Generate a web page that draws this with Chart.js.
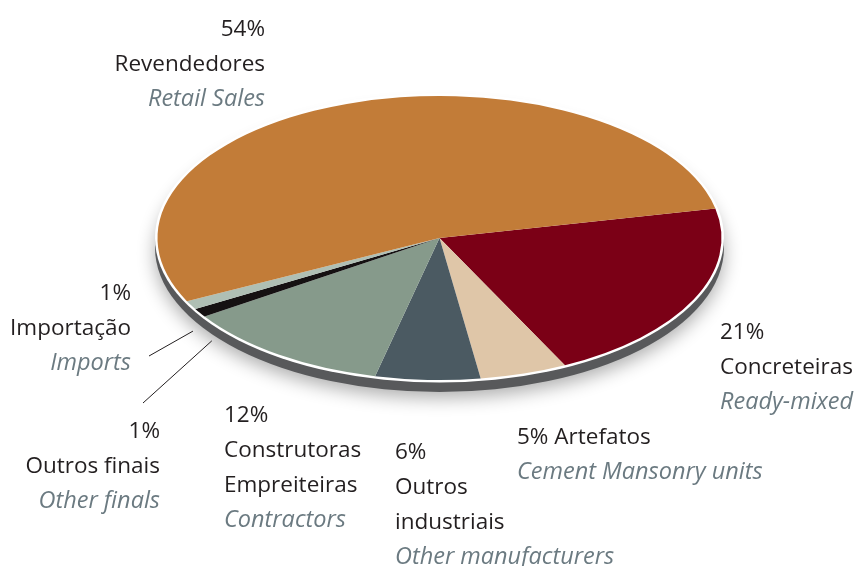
<!DOCTYPE html>
<html lang="pt">
<head>
<meta charset="utf-8">
<script src="https://cdn.jsdelivr.net/npm/chart.js@4/dist/chart.umd.min.js"></script>
<style>
  html, body { margin: 0; padding: 0; background: #fff; }
  #wrap { position: relative; width: 859px; height: 566px; overflow: hidden; font-family: "Open Sans", sans-serif; }
  #wrap canvas { position: absolute; left: 0; top: 0; }
  .rotulo { position: absolute; font-size: 22.5px; line-height: 35px; color: #231f20; white-space: nowrap; }
  .rotulo .en { font-style: italic; color: #6b7a81; font-size: 23.5px; }
  .dir { text-align: right; }
</style>
</head>
<body>
<div id="wrap">
  <canvas id="pizza" width="859" height="566"></canvas>
</div>
<script>
// Dados (percentuais), na ordem das fatias a partir de Concreteiras
const categorias = ['Concreteiras', 'Artefatos', 'Outros industriais', 'Construtoras Empreiteiras', 'Outros finais', 'Importação', 'Revendedores'];
const nomesIngles = ['Ready-mixed', 'Cement Mansonry units', 'Other manufacturers', 'Contractors', 'Other finals', 'Imports', 'Retail Sales'];
const valores = [21, 5, 6, 12, 1, 1, 54];
const cores = ['#7b0016', '#dfc6a8', '#4b5a62', '#869a8b', '#151112', '#afbfb4', '#c27c38'];

// Layout dos rótulos: linhas de texto de cada bloco (percentual montado a partir de valores)
const blocos = [
  { i: 6, x: 265, y: 10, dir: true, linhas: ['%', 'Revendedores', 'en'] },
  { i: 0, x: 720, y: 313, dir: false, linhas: ['%', 'Concreteiras', 'en'] },
  { i: 1, x: 517, y: 418, dir: false, linhas: ['% Artefatos', 'en'] },
  { i: 2, x: 395, y: 433, dir: false, linhas: ['%', 'Outros', 'industriais', 'en'] },
  { i: 3, x: 224, y: 396, dir: false, linhas: ['%', 'Construtoras', 'Empreiteiras', 'en'] },
  { i: 5, x: 131, y: 274, dir: true, linhas: ['%', 'Importação', 'en'] },
  { i: 4, x: 160, y: 412, dir: true, linhas: ['%', 'Outros finais', 'en'] }
];

// Linhas de chamada: ponto junto ao texto e deslocamento a partir da borda da fatia
const chamadas = [
  { i: 5, de: [149, 356], desloc: [2, 26] },
  { i: 4, de: [143, 403], desloc: [12, 28] }
];

const CENTRO_Y = 238;   // centro da elipse na tela
const RAIO_Y = 142;     // semi-eixo vertical
const PROF = 9.5;       // espessura da borda cinza

const wrap = document.getElementById('wrap');
blocos.forEach(b => {
  const d = document.createElement('div');
  d.className = 'rotulo' + (b.dir ? ' dir' : '');
  d.style.top = b.y + 'px';
  if (b.dir) d.style.right = (859 - b.x) + 'px'; else d.style.left = b.x + 'px';
  d.innerHTML = b.linhas.map(l => {
    if (l === 'en') return '<div class="en">' + nomesIngles[b.i] + '</div>';
    if (l.startsWith('%')) return '<div>' + valores[b.i] + l + '</div>';
    return '<div>' + l + '</div>';
  }).join('');
  wrap.appendChild(d);
});

function elipse(ctx, x, y, rx, ry) {
  ctx.beginPath();
  ctx.ellipse(x, y, rx, ry, 0, 0, Math.PI * 2);
  ctx.fill();
}

// Plugin que achata a pizza e desenha a borda/sombra
const pizza3d = {
  id: 'pizza3d',
  beforeDatasetsDraw(chart) {
    const ctx = chart.ctx;
    const area = chart.chartArea;
    const cx = (area.left + area.right) / 2;
    const cy = (area.top + area.bottom) / 2;
    const r = chart.getDatasetMeta(0).data[0].outerRadius;
    const k = RAIO_Y / r;

    ctx.save();
    ctx.shadowColor = 'rgba(0,0,0,0.32)';
    ctx.shadowBlur = 18;
    ctx.shadowOffsetY = 6;
    ctx.fillStyle = '#58595b';
    elipse(ctx, cx, CENTRO_Y + PROF, r + 2.5, r * k + 2.5);
    ctx.restore();

    ctx.fillStyle = '#ffffff';
    elipse(ctx, cx, CENTRO_Y, r + 2.5, r * k + 2.5);

    ctx.save();
    ctx.translate(cx, CENTRO_Y);
    ctx.scale(1, k);
    ctx.translate(-cx, -cy);
  },
  afterDatasetsDraw(chart) {
    chart.ctx.restore();
  },
  afterDraw(chart) {
    const ctx = chart.ctx;
    const meta = chart.getDatasetMeta(0);
    ctx.save();
    ctx.strokeStyle = '#231f20';
    ctx.lineWidth = 1;
    chamadas.forEach(c => {
      const arc = meta.data[c.i];
      const a = (arc.startAngle + arc.endAngle) / 2;
      const r = arc.outerRadius;
      const ex = arc.x + r * Math.cos(a) + c.desloc[0];
      const ey = CENTRO_Y + RAIO_Y * Math.sin(a) + c.desloc[1];
      ctx.beginPath();
      ctx.moveTo(c.de[0], c.de[1]);
      ctx.lineTo(ex, ey);
      ctx.stroke();
    });
    ctx.restore();
  }
};

new Chart(document.getElementById('pizza'), {
  type: 'pie',
  data: {
    labels: categorias,
    datasets: [{
      data: valores,
      backgroundColor: cores,
      borderWidth: 0,
      hoverOffset: 0,
      clip: false
    }]
  },
  options: {
    responsive: false,
    animation: false,
    rotation: 78,
    radius: 282,
    layout: { padding: { left: 20, right: 0, top: 0, bottom: 0 } },
    plugins: {
      legend: { display: false },
      tooltip: { enabled: false }
    },
    events: []
  },
  plugins: [pizza3d]
});
</script>
</body>
</html>
